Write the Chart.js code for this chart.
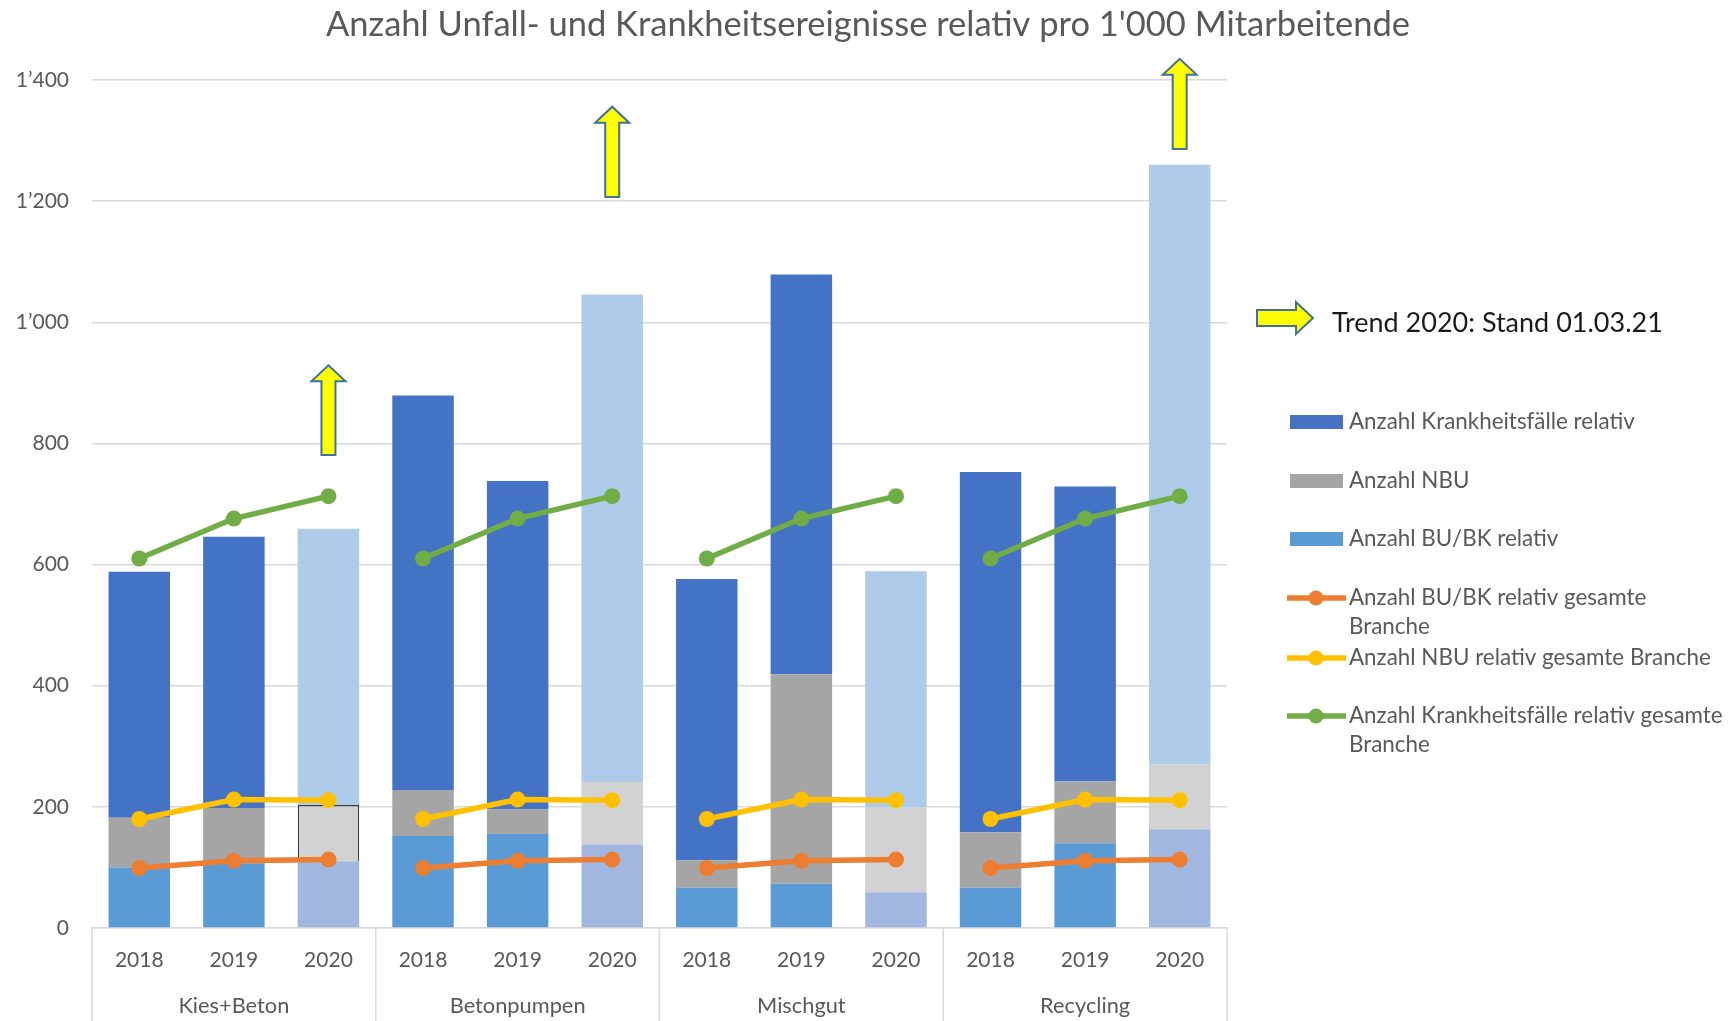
<!DOCTYPE html>
<html>
<head>
<meta charset="utf-8">
<script src="https://cdn.jsdelivr.net/npm/chart.js@4.4.1/dist/chart.umd.min.js"></script>
<style>
    body { margin: 0; background: #fff; }
    #wrap { position: relative; width: 1733px; height: 1021px; }
</style>
</head>
<body>
<div id="wrap"><canvas id="myChart"></canvas></div>
<script>
// kategorien
const groups = ['Kies+Beton', 'Betonpumpen', 'Mischgut', 'Recycling']
const years = ['2018', '2019', '2020', '2018', '2019', '2020', '2018', '2019', '2020', '2018', '2019', '2020']

// werte (gestapelt)
const buRelativ = [100, 107, 110, 152, 155, 138, 67, 73, 59, 67, 140, 163]
const nbu = [82, 91, 93, 76, 41, 103, 45, 346, 140, 91, 102, 107]
const krankRelativ = [406, 448, 456, 651, 542, 805, 464, 660, 390, 595, 487, 990]

// gesamte Branche
const buBranche = [99, 111, 113, 99, 111, 113, 99, 111, 113, 99, 111, 113]
const nbuBranche = [180, 212, 211, 180, 212, 211, 180, 212, 211, 180, 212, 211]
const krankBranche = [610, 676, 713, 610, 676, 713, 610, 676, 713, 610, 676, 713]

// trend pfeile (von / bis) pro gruppe, null = kein pfeil
const trendFrom = [781, 1207, null, 1286]
const trendTo = [929, 1356, null, 1435]

const yTicks = [0, 200, 400, 600, 800, 1000, 1200, 1400]

const FONT = 'Lato, "Open Sans", sans-serif'
const GREY = '#595959'

const fmt = (v) => {
    const s = String(v)
    return s.length > 3 ? s.slice(0, -3) + '\u2019' + s.slice(-3) : s
}

// 2020 = heller
const barColors = (normal, light) => years.map((y, i) => i % 3 === 2 ? light : normal)

const lineSet = (label, data, color) => ({
    type: 'line',
    label: label,
    data: data,
    stack: label,
    borderColor: color,
    backgroundColor: color,
    borderWidth: 5.5,
    pointRadius: 8,
    pointHoverRadius: 8,
    pointBorderWidth: 0,
    order: 0,
    segment: {
        borderColor: ctx => ctx.p0DataIndex % 3 === 2 ? 'transparent' : color
    }
})

const drawUpArrow = (ctx, x, yBottom, yTop) => {
    const sw = 7, hw = 17, hh = 16
    ctx.beginPath()
    ctx.moveTo(x - sw, yBottom)
    ctx.lineTo(x - sw, yTop + hh)
    ctx.lineTo(x - hw, yTop + hh)
    ctx.lineTo(x, yTop)
    ctx.lineTo(x + hw, yTop + hh)
    ctx.lineTo(x + sw, yTop + hh)
    ctx.lineTo(x + sw, yBottom)
    ctx.closePath()
    ctx.fillStyle = '#FFFF00'
    ctx.fill()
    ctx.lineWidth = 2
    ctx.strokeStyle = '#41719C'
    ctx.stroke()
}

const drawRightArrow = (ctx, xLeft, xRight, y) => {
    const sw = 8, hw = 16, hl = 17
    ctx.beginPath()
    ctx.moveTo(xLeft, y - sw)
    ctx.lineTo(xRight - hl, y - sw)
    ctx.lineTo(xRight - hl, y - hw)
    ctx.lineTo(xRight, y)
    ctx.lineTo(xRight - hl, y + hw)
    ctx.lineTo(xRight - hl, y + sw)
    ctx.lineTo(xLeft, y + sw)
    ctx.closePath()
    ctx.fillStyle = '#FFFF00'
    ctx.fill()
    ctx.lineWidth = 2
    ctx.strokeStyle = '#41719C'
    ctx.stroke()
}

const extras = {
    id: 'extras',
    afterDraw(chart) {
        const ctx = chart.ctx
        const xs = chart.scales.x
        const ys = chart.scales.y
        const area = chart.chartArea
        ctx.save()

        // titel
        ctx.fillStyle = GREY
        ctx.font = '34.5px ' + FONT
        ctx.textAlign = 'center'
        ctx.textBaseline = 'middle'
        ctx.fillText("Anzahl Unfall- und Krankheitsereignisse relativ pro 1'000 Mitarbeitende", 868, 25)

        // gruppen trennlinien + namen
        ctx.strokeStyle = '#D9D9D9'
        ctx.lineWidth = 1.5
        for (let g = 0; g <= groups.length; g++) {
            let x
            if (g === 0) x = area.left
            else if (g === groups.length) x = area.right
            else x = (xs.getPixelForValue(g * 3 - 1) + xs.getPixelForValue(g * 3)) / 2
            ctx.beginPath()
            ctx.moveTo(x, area.bottom)
            ctx.lineTo(x, chart.height)
            ctx.stroke()
        }
        ctx.fillStyle = GREY
        ctx.font = '21.8px ' + FONT
        for (let g = 0; g < groups.length; g++) {
            const x = xs.getPixelForValue(g * 3 + 1)
            ctx.fillText(groups[g], x, 1006)
        }

        // trend pfeile
        for (let g = 0; g < groups.length; g++) {
            if (trendFrom[g] === null) continue
            const x = xs.getPixelForValue(g * 3 + 2)
            drawUpArrow(ctx, x, ys.getPixelForValue(trendFrom[g]), ys.getPixelForValue(trendTo[g]))
        }

        // legende
        drawRightArrow(ctx, 1257, 1313, 318)
        ctx.textAlign = 'left'
        ctx.fillStyle = '#1a1a1a'
        ctx.font = '27px ' + FONT
        ctx.fillText('Trend 2020: Stand 01.03.21', 1332, 323)

        const ds = chart.data.datasets
        const items = [
            { d: ds[2], y: 422, lines: ['Anzahl Krankheitsfälle relativ'] },
            { d: ds[1], y: 481, lines: ['Anzahl NBU'] },
            { d: ds[0], y: 539, lines: ['Anzahl BU/BK relativ'] },
            { d: ds[3], y: 598, lines: ['Anzahl BU/BK relativ gesamte', 'Branche'] },
            { d: ds[4], y: 658, lines: ['Anzahl NBU relativ gesamte Branche'] },
            { d: ds[5], y: 716, lines: ['Anzahl Krankheitsfälle relativ gesamte', 'Branche'] }
        ]
        ctx.font = '22.4px ' + FONT
        items.forEach(it => {
            if (it.d.type === 'line') {
                ctx.strokeStyle = it.d.borderColor
                ctx.lineWidth = 5.5
                ctx.beginPath()
                ctx.moveTo(1287, it.y)
                ctx.lineTo(1346, it.y)
                ctx.stroke()
                ctx.fillStyle = it.d.borderColor
                ctx.beginPath()
                ctx.arc(1316, it.y, 7.5, 0, Math.PI * 2)
                ctx.fill()
            } else {
                ctx.fillStyle = it.d.backgroundColor[0]
                ctx.fillRect(1290, it.y - 7, 53, 14)
            }
            ctx.fillStyle = GREY
            it.lines.forEach((t, k) => ctx.fillText(t, 1349, it.y + k * 29))
        })
        ctx.restore()
    }
}

const ctx = document.getElementById('myChart').getContext('2d')
const myChart = new Chart(ctx, {
    type: 'bar',
    data: {
        labels: years,
        datasets: [{
            label: 'Anzahl BU/BK relativ',
            data: buRelativ,
            stack: 'bars',
            backgroundColor: barColors('#5B9BD5', '#A2B7E0'),
            order: 1
        }, {
            label: 'Anzahl NBU',
            data: nbu,
            stack: 'bars',
            backgroundColor: barColors('#A5A5A5', '#D2D2D2'),
            borderColor: years.map((y, i) => i === 2 ? '#404040' : 'transparent'),
            borderWidth: years.map((y, i) => i === 2 ? 1.5 : 0),
            order: 1
        }, {
            label: 'Anzahl Krankheitsfälle relativ',
            data: krankRelativ,
            stack: 'bars',
            backgroundColor: barColors('#4472C4', '#AECBE9'),
            order: 1
        },
            lineSet('Anzahl BU/BK relativ gesamte Branche', buBranche, '#ED7D31'),
            lineSet('Anzahl NBU relativ gesamte Branche', nbuBranche, '#FFC000'),
            lineSet('Anzahl Krankheitsfälle relativ gesamte Branche', krankBranche, '#70AD47')
        ]
    },
    options: {
        responsive: true,
        maintainAspectRatio: false,
        animation: false,
        layout: { padding: { top: 80, right: 506, left: 0, bottom: 0 } },
        datasets: {
            bar: { categoryPercentage: 1, barPercentage: 0.65 }
        },
        plugins: {
            legend: { display: false },
            title: { display: false },
            tooltip: { enabled: false }
        },
        scales: {
            x: {
                stacked: true,
                grid: { display: false },
                border: { color: '#D9D9D9', width: 1.5 },
                ticks: {
                    color: GREY,
                    font: { family: FONT, size: 21 },
                    padding: 12,
                    maxRotation: 0,
                    autoSkip: false
                },
                afterFit: (scale) => { scale.height = 93 }
            },
            y: {
                stacked: true,
                min: 0,
                max: 1400,
                afterBuildTicks: (scale) => { scale.ticks = yTicks.map(v => ({ value: v })) },
                grid: { color: '#D9D9D9', lineWidth: 1.5, drawTicks: false },
                border: { display: false },
                ticks: {
                    color: GREY,
                    font: { family: FONT, size: 21 },
                    padding: 23,
                    callback: (v) => fmt(v)
                },
                afterFit: (scale) => { scale.width = 92 }
            }
        }
    },
    plugins: [extras]
})
</script>
</body>
</html>
